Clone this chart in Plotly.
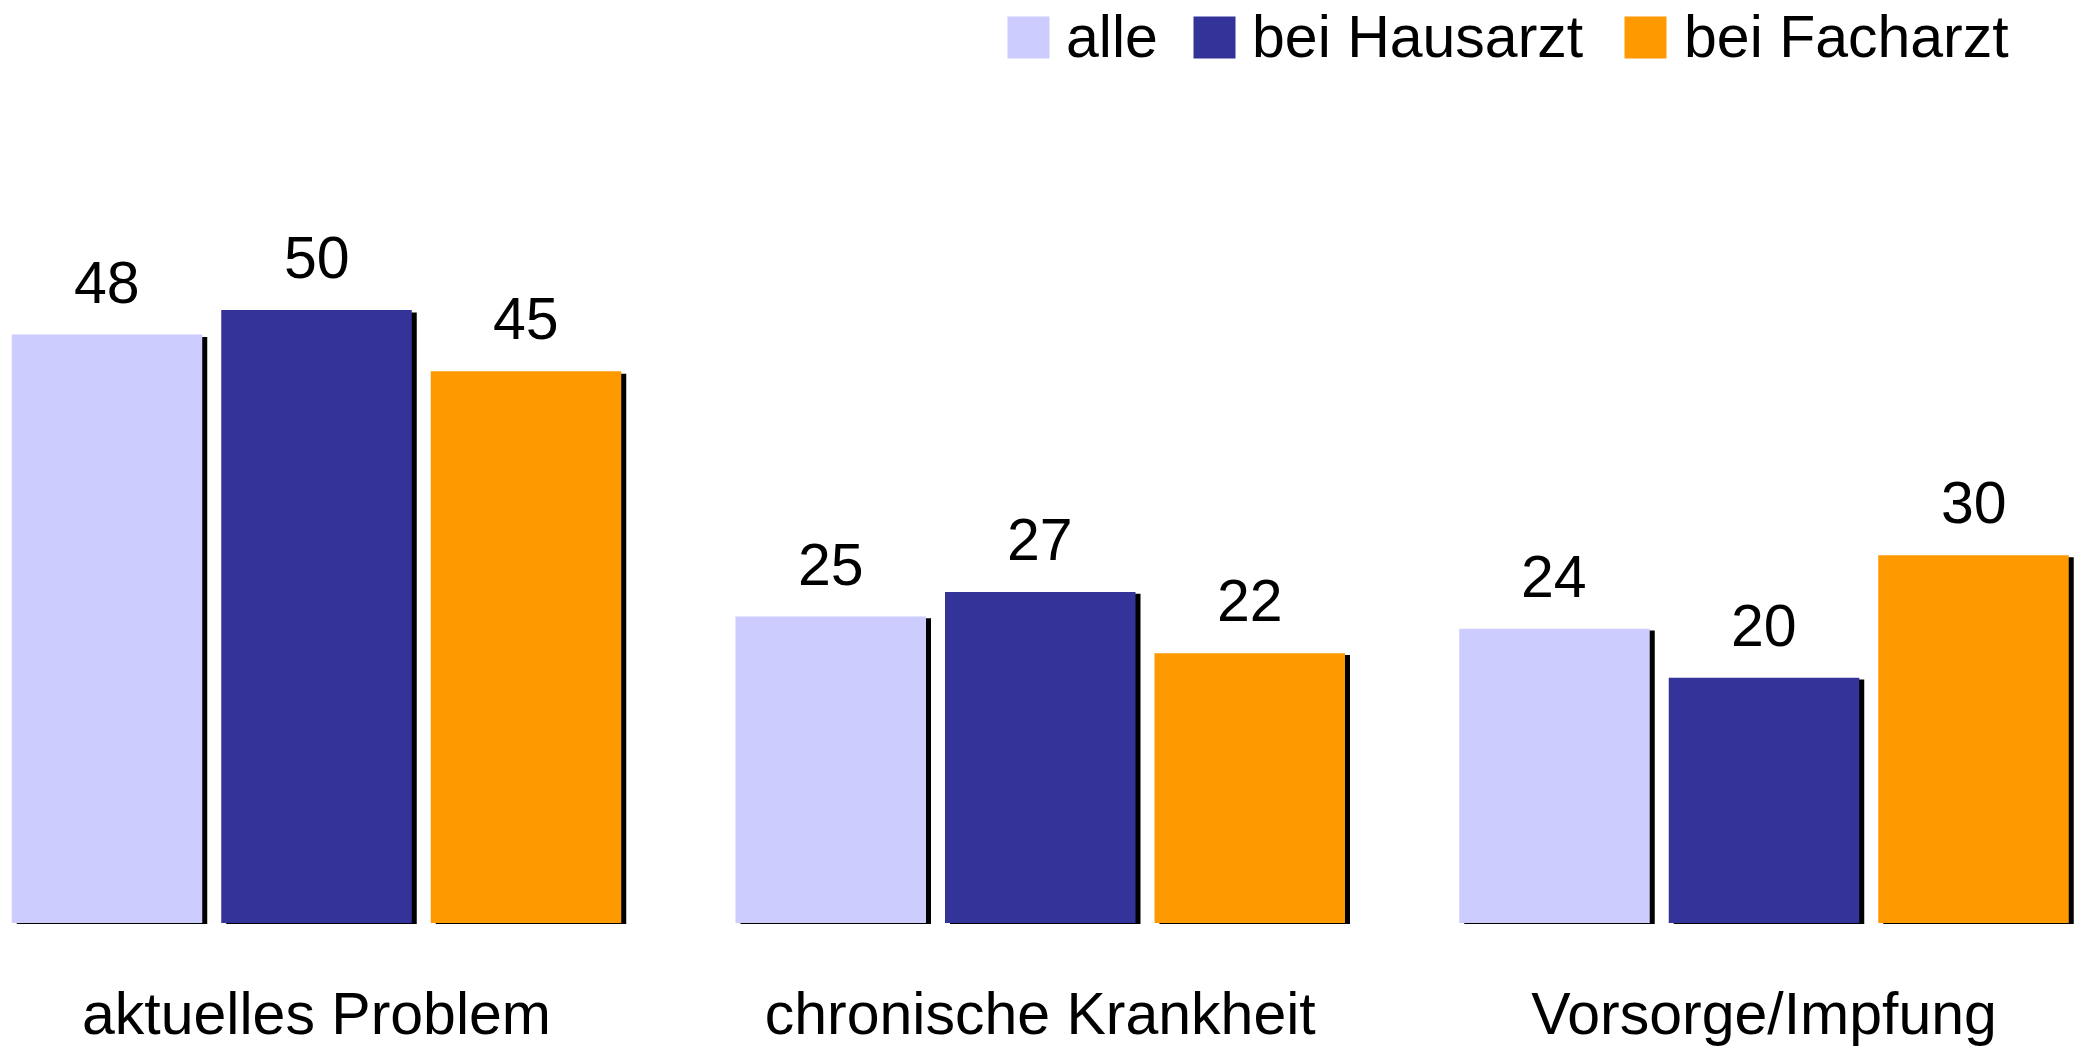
import plotly.graph_objects as go

categories = ["aktuelles Problem", "chronische Krankheit", "Vorsorge/Impfung"]
series_names = ["alle", "bei Hausarzt", "bei Facharzt"]
alle = [48, 25, 24]
hausarzt = [50, 27, 20]
facharzt = [45, 22, 30]
series_values = [alle, hausarzt, facharzt]
colors = ["#CCCCFF", "#333399", "#FF9900"]

W, H = 2085, 1047
FONT = "Liberation Sans, Arial, sans-serif"
FS = 59

# layout geometry (pixels)
plot_bottom = 930
group_center0 = 316.5
group_period = 723.75
bargap = 0.1316
bargroupgap = 0.0907
slot_px = (1 - bargap) / 3 * group_period

k_bar = 12.26
bar_base_px = 923
k_sh = 12.229
sh_base_px = 924
sh_dx = 5

xr0 = -group_center0 / group_period
xr1 = (W - group_center0) / group_period
yr0 = -(plot_bottom - bar_base_px) / k_bar
yr1 = yr0 + plot_bottom / k_bar
ys0 = -(plot_bottom - sh_base_px) / k_sh
ys1 = ys0 + plot_bottom / k_sh

fig = go.Figure()

# shadows
for name, vals in zip(series_names, series_values):
    fig.add_trace(go.Bar(x=categories, y=vals, name=name, marker=dict(color="black", line=dict(width=0)),
                         xaxis="x", yaxis="y", showlegend=False, hoverinfo="skip"))
# bars
for name, vals, c in zip(series_names, series_values, colors):
    fig.add_trace(go.Bar(x=categories, y=vals, name=name, marker=dict(color=c, line=dict(width=0)),
                         xaxis="x2", yaxis="y2", showlegend=False))

annotations = []
for j, vals in enumerate(series_values):
    for cat, v in zip(categories, vals):
        annotations.append(dict(x=cat, y=v, xref="x2", yref="y2", text=str(v), showarrow=False,
                                xshift=(j - 1) * slot_px, yanchor="middle", yshift=52,
                                font=dict(family=FONT, size=FS, color="black")))

# custom legend
sw_left = [1008, 1194, 1625]
txt_left = [1065, 1251, 1683]
leg_cy = 37.5
for name, c, sl, tl in zip(series_names, colors, sw_left, txt_left):
    annotations.append(dict(x=(sl + 20.5) / W, y=1 - leg_cy / plot_bottom, xref="paper", yref="paper",
                            text=" ", showarrow=False, bgcolor=c, width=41, height=41, borderpad=0,
                            xanchor="center", yanchor="middle", font=dict(size=10)))
    annotations.append(dict(x=tl / W, y=1 - leg_cy / plot_bottom, xref="paper", yref="paper",
                            text=name, showarrow=False, xanchor="left", yanchor="middle", borderpad=0,
                            font=dict(family=FONT, size=FS, color="black")))

fig.update_layout(
    width=W, height=H,
    margin=dict(l=0, r=0, t=0, b=H - plot_bottom, autoexpand=False),
    paper_bgcolor="white", plot_bgcolor="white",
    barmode="group", bargap=bargap, bargroupgap=bargroupgap,
    showlegend=False,
    font=dict(family=FONT, size=FS, color="black"),
    xaxis=dict(type="category", range=[xr0 - sh_dx / group_period, xr1 - sh_dx / group_period],
               showticklabels=False, showgrid=False, zeroline=False, showline=False, ticks="",
               automargin=False),
    yaxis=dict(range=[ys0, ys1], showticklabels=False, showgrid=False, zeroline=False, showline=False,
               ticks="", automargin=False),
    xaxis2=dict(type="category", overlaying="x", range=[xr0, xr1], side="bottom",
                showticklabels=True, showgrid=False, zeroline=False, showline=False, ticks="",
                ticklabelstandoff=44, automargin=False,
                tickfont=dict(family=FONT, size=FS, color="black")),
    yaxis2=dict(overlaying="y", range=[yr0, yr1], showticklabels=False, showgrid=False,
                zeroline=False, showline=False, ticks="", automargin=False),
    annotations=annotations,
)

fig.write_html("out.html", config={"displayModeBar": False},
               post_script="document.body.style.margin='0';document.body.style.overflow='hidden';")
